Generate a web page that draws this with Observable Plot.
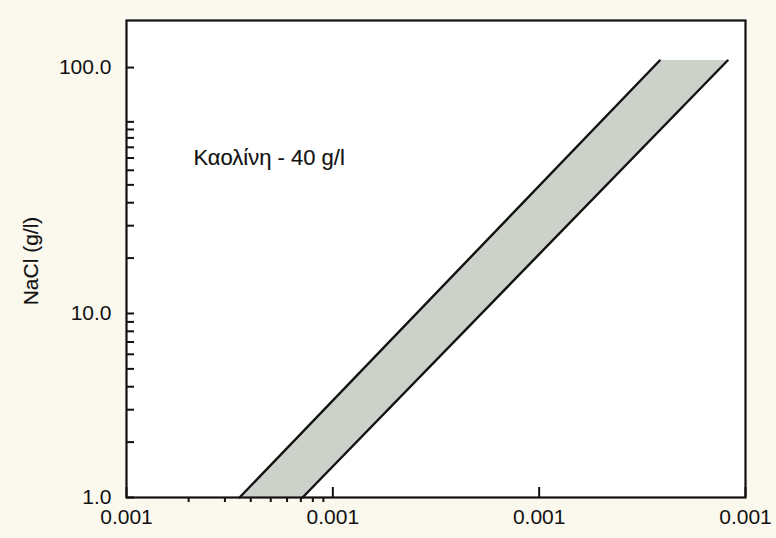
<!DOCTYPE html>
<html>
<head>
<meta charset="utf-8">
<script src="https://cdn.jsdelivr.net/npm/d3@7"></script>
<script src="https://cdn.jsdelivr.net/npm/@observablehq/plot@0.6"></script>
<style>
  html, body { margin: 0; padding: 0; background: #fbf8ee; }
  #chart svg { display: block; }
</style>
</head>
<body>
<div id="chart"></div>
<script>
// ---- data ----
const bandY      = [1, 237];            // NaCl (g/l) at bottom and top of the band
const bandXLeft  = [3.53e-4, 0.0384];   // left edge of the band
const bandXRight = [7.13e-4, 0.0819];   // right edge of the band

const xTickValues = [1e-4, 1e-3, 1e-2, 1e-1];
const xTickLabels = ["0.001", "0.001", "0.001", "0.001"];
const xMinorTicks = [2e-4, 3e-4, 4e-4, 5e-4, 6e-4, 7e-4, 8e-4, 9e-4];

const yTickValues = [1, 10, 217];
const yTickLabels = ["1.0", "10.0", "100.0"];
const yMinorTicks = [2, 3, 4, 5, 6, 7, 8, 9, 20, 30, 40, 50, 60, 70, 80, 90, 100, 110];

const annotation = [{x: 2.11e-4, y: 70, text: "Καολίνη - 40 g/l"}];
const yLabel = "NaCl (g/l)";

// ---- layout ----
const W = 776, H = 538;
const mL = 126, mR = 31, mT = 20, mB = 41;
const pw = W - mL - mR, ph = H - mT - mB;

const band = bandY.map((y, i) => ({y, x1: bandXLeft[i], x2: bandXRight[i]}));
const xLab = new Map(xTickValues.map((v, i) => [v, xTickLabels[i]]));
const yLab = new Map(yTickValues.map((v, i) => [v, yTickLabels[i]]));
const ink = "#111111";
const font = "'Liberation Sans', Arial, Helvetica, sans-serif";
const textStyle = {fill: ink, stroke: ink, strokeWidth: 0.15};

const chart = Plot.plot({
  width: W, height: H,
  marginLeft: mL, marginRight: mR, marginTop: mT, marginBottom: mB,
  style: {background: "transparent", fontFamily: font, color: ink},
  x: {type: "log", domain: [1e-4, 1e-1]},
  y: {type: "log", domain: [1, 391]},
  marks: [
    Plot.frame({fill: "white", stroke: null}),
    Plot.areaX(band, {y: "y", x1: "x1", x2: "x2", fill: "#ccd2c9", curve: "linear"}),
    Plot.line(band, {x: "x1", y: "y", stroke: ink, strokeWidth: 2.4}),
    Plot.line(band, {x: "x2", y: "y", stroke: ink, strokeWidth: 2.4}),
    // inward major x ticks
    Plot.tickX(xTickValues, {x: d => d, stroke: ink, strokeWidth: 2, insetTop: ph - 10}),
    // outward minor x ticks
    Plot.tickX(xMinorTicks, {x: d => d, stroke: ink, strokeWidth: 2, insetTop: ph, insetBottom: -5}),
    // inward y ticks
    Plot.tickY(yTickValues.concat(yMinorTicks), {y: d => d, stroke: ink, strokeWidth: 2, insetRight: pw - 8}),
    Plot.axisX({ticks: xTickValues, tickSize: 0, tickPadding: 12, tickFormat: d => xLab.get(d),
                fontSize: 21, label: null, ...textStyle}),
    Plot.axisY({ticks: yTickValues, tickSize: 0, tickPadding: 15, tickFormat: d => yLab.get(d),
                fontSize: 21, label: null, ...textStyle}),
    Plot.text([yLabel], {text: d => d, frameAnchor: "left", rotate: -90, dx: -95, dy: 2,
                         fontSize: 21, textAnchor: "middle", ...textStyle}),
    Plot.text(annotation, {x: "x", y: "y", text: "text", textAnchor: "start",
                           fontSize: 22, ...textStyle}),
    Plot.frame({stroke: ink, strokeWidth: 2.2})
  ]
});
document.getElementById("chart").appendChild(chart);
</script>
</body>
</html>
